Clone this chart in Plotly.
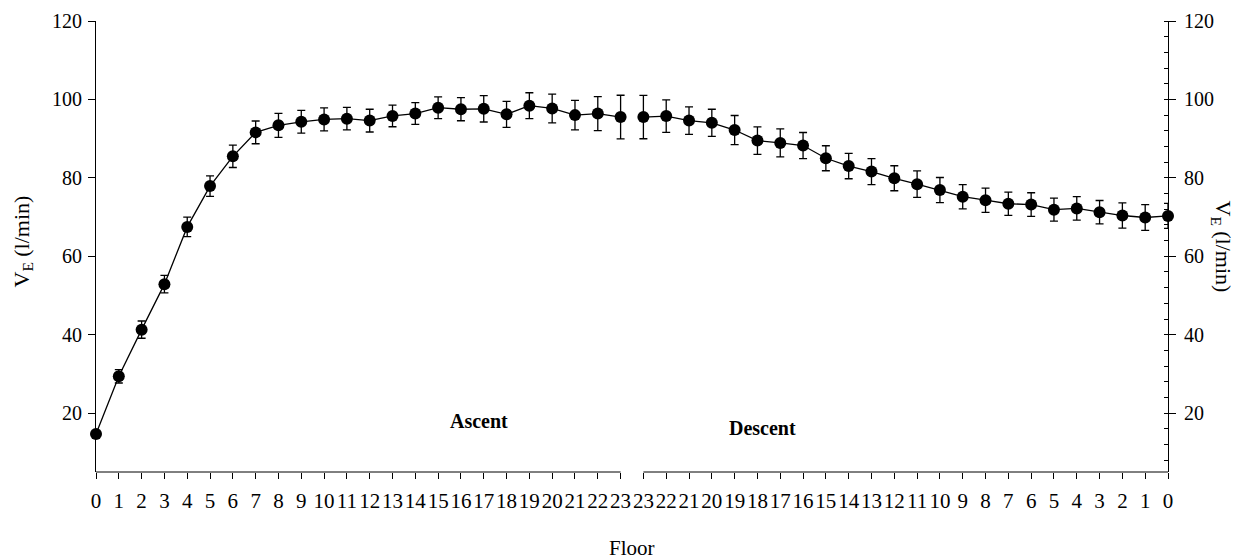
import plotly.graph_objects as go

# ---- data ----
ascent_floors = list(range(0, 24))
ascent_ve = [14.7, 29.4, 41.3, 52.9, 67.5, 77.9, 85.5, 91.6, 93.4, 94.3, 94.9, 95.1,
             94.6, 95.8, 96.4, 97.9, 97.5, 97.6, 96.2, 98.4, 97.7, 96.0, 96.4, 95.5]
ascent_err = [0.8, 1.7, 2.2, 2.25, 2.5, 2.6, 2.85, 2.9, 3.06, 2.9, 2.94, 2.85,
              2.9, 2.77, 2.77, 2.77, 2.94, 3.36, 3.3, 3.3, 3.66, 3.74, 4.34, 5.57]

descent_floors = list(range(23, -1, -1))
descent_ve = [95.5, 95.75, 94.6, 94.05, 92.2, 89.5, 88.9, 88.25, 85.0, 83.0, 81.6, 79.9,
              78.4, 76.9, 75.2, 74.3, 73.4, 73.2, 71.9, 72.2, 71.25, 70.4, 69.9, 70.3]
descent_err = [5.53, 4.13, 3.49, 3.45, 3.7, 3.49, 3.57, 3.32, 3.19, 3.23, 3.32, 3.19,
               3.36, 3.2, 3.1, 3.1, 2.98, 3.0, 2.94, 3.0, 2.98, 3.2, 3.28, 3.2]

y_ticks = [20, 40, 60, 80, 100, 120]
y_range = [5, 120]

# category positions along the axis
n_a = len(ascent_floors)
n_d = len(descent_floors)
pos_a = list(range(n_a))
pos_d = list(range(n_a, n_a + n_d))
tick_pos = pos_a + pos_d
tick_text = [str(f) for f in ascent_floors] + [str(f) for f in descent_floors]

FONT = "Liberation Serif"

fig = go.Figure()

for xs, ys, es in [(pos_a, ascent_ve, ascent_err), (pos_d, descent_ve, descent_err)]:
    fig.add_trace(go.Scatter(
        x=xs, y=ys, mode="lines+markers",
        line=dict(color="black", width=1.3),
        marker=dict(color="black", size=12, symbol="circle"),
        error_y=dict(type="data", array=es, visible=True, color="black",
                     thickness=1.3, width=4),
        cliponaxis=False, showlegend=False,
    ))

# invisible trace on the right axis so it is rendered
fig.add_trace(go.Scatter(x=pos_a, y=ascent_ve, yaxis="y2", mode="markers",
                         marker=dict(opacity=0), showlegend=False, hoverinfo="skip"))

fig.update_layout(
    width=1233, height=552,
    margin=dict(l=88, r=73, t=13, b=88, autoexpand=False),
    paper_bgcolor="white", plot_bgcolor="white",
    font=dict(family=FONT, size=20, color="black"),
    xaxis=dict(
        range=[0, n_a + n_d - 1], tickmode="array", tickvals=tick_pos, ticktext=tick_text,
        showline=False, showgrid=False, zeroline=False,
        ticks="outside", ticklen=6, tickcolor="black", tickwidth=1,
        tickfont=dict(family=FONT, size=21), tickangle=0, ticklabelstandoff=4,
    ),
    yaxis=dict(
        range=y_range, tickmode="array", tickvals=y_ticks,
        showline=True, linecolor="black", linewidth=1, mirror=False,
        showgrid=False, zeroline=False,
        ticks="outside", ticklen=7, tickcolor="black",
        tickfont=dict(family=FONT, size=20), ticklabelstandoff=2,
    ),
    yaxis2=dict(
        range=y_range, tickmode="array", tickvals=y_ticks,
        overlaying="y", side="right", anchor="x",
        showline=True, linecolor="black", linewidth=1,
        showgrid=False, zeroline=False,
        ticks="outside", ticklen=7, tickcolor="black",
        tickfont=dict(family=FONT, size=20), ticklabelstandoff=4,
        minor=dict(ticks="inside", dtick=4, tick0=0, ticklen=4, tickcolor="black", showgrid=False),
    ),
    shapes=[
        dict(type="line", xref="x", yref="paper", x0=pos_a[0], x1=pos_a[-1], y0=0, y1=0,
             line=dict(color="black", width=1)),
        dict(type="line", xref="x", yref="paper", x0=pos_d[0], x1=pos_d[-1], y0=0, y1=0,
             line=dict(color="black", width=1)),
    ],
    annotations=[
        dict(text="V<sub>E</sub> (l/min)", xref="paper", yref="paper", x=0, y=0.5,
             xshift=-74, yshift=5, textangle=-90, showarrow=False, font=dict(family=FONT, size=22),
             xanchor="center", yanchor="middle"),
        dict(text="V<sub>E</sub> (l/min)", xref="paper", yref="paper", x=1, y=0.5,
             xshift=54, yshift=0, textangle=90, showarrow=False, font=dict(family=FONT, size=22),
             xanchor="center", yanchor="middle"),
        dict(text="Floor", xref="paper", yref="paper", x=0.5, y=0, yshift=-76,
             showarrow=False, font=dict(family=FONT, size=21), xanchor="center", yanchor="middle"),
        dict(text="<b>Ascent</b>", xref="x", yref="y", x=16.8, y=18.1, showarrow=False,
             font=dict(family=FONT, size=20), xanchor="center", yanchor="middle"),
        dict(text="<b>Descent</b>", xref="x", yref="y", x=29.2, y=16.3, showarrow=False,
             font=dict(family=FONT, size=20), xanchor="center", yanchor="middle"),
    ],
)

fig.write_html("out.html")
